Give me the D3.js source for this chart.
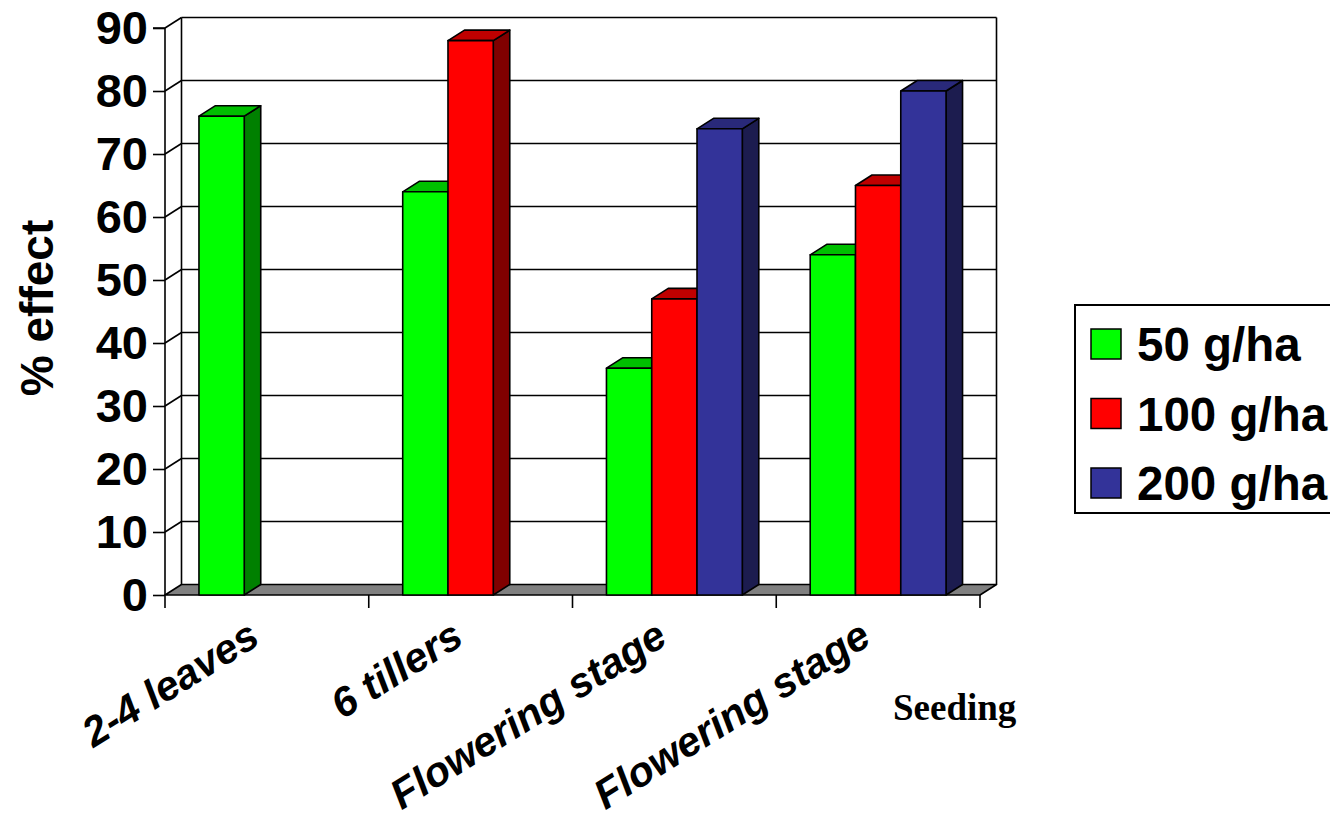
<!DOCTYPE html>
<html>
<head>
<meta charset="utf-8">
<script src="https://cdn.jsdelivr.net/npm/d3@7"></script>
<style>
  html, body { margin: 0; padding: 0; background: #fff; }
  svg { display: block; }
  text { font-family: "Liberation Sans", Arial, sans-serif; font-weight: bold; fill: #000; }
</style>
</head>
<body>
<svg id="chart" width="1330" height="817"></svg>
<script>
// Application stages (x categories)
const categories = ["2-4 leaves", "6 tillers", "Flowering stage", "Flowering stage"];
// Dose series
const series = ["50 g/ha", "100 g/ha", "200 g/ha"];
// % effect per stage for each dose (null = not applied)
const values50 = [76, 64, 36, 54];
const values100 = [null, 88, 47, 65];
const values200 = [null, null, 74, 80];
const yTicks = [0, 10, 20, 30, 40, 50, 60, 70, 80, 90];

const seriesValues = [values50, values100, values200];
const colors = [
  { front: "#00ff00", top: "#00bf00", side: "#008000" },
  { front: "#ff0000", top: "#bf0000", side: "#800000" },
  { front: "#333399", top: "#29297a", side: "#1c1c4f" }
];

const svg = d3.select("#chart");

// Front plane of the 3-D box and depth offset of the back wall
const left = 165, right = 980, base = 595, topY = 28;
const DX = 16.5, DY = -10.5;

const x0 = d3.scaleBand().domain(d3.range(categories.length)).range([left, right]);
const x1 = d3.scaleBand().domain(series).range([0, x0.bandwidth()])
  .paddingInner(0).paddingOuter(0.75);
const y = d3.scaleLinear().domain([0, 90]).range([base, topY]);

const lineW = 1.6;

// Back wall gridlines
const wall = svg.append("g");
wall.selectAll("line.grid").data(yTicks.filter(d => d > 0)).join("line")
  .attr("x1", left + DX).attr("x2", right + DX)
  .attr("y1", d => y(d) + DY).attr("y2", d => y(d) + DY)
  .attr("stroke", "#000").attr("stroke-width", lineW);
// Side wall diagonals joining front axis ticks to the back wall
wall.selectAll("line.diag").data(yTicks.filter(d => d > 0)).join("line")
  .attr("x1", left).attr("x2", left + DX)
  .attr("y1", d => y(d)).attr("y2", d => y(d) + DY)
  .attr("stroke", "#000").attr("stroke-width", lineW);
// Back wall vertical edges
wall.append("line").attr("x1", left + DX).attr("x2", left + DX)
  .attr("y1", y(90) + DY).attr("y2", y(0) + DY)
  .attr("stroke", "#000").attr("stroke-width", lineW);
wall.append("line").attr("x1", right + DX).attr("x2", right + DX)
  .attr("y1", y(90) + DY).attr("y2", y(0) + DY)
  .attr("stroke", "#000").attr("stroke-width", lineW);

// Floor
svg.append("path")
  .attr("d", `M${left},${y(0)} L${left + DX},${y(0) + DY} L${right + DX},${y(0) + DY} L${right},${y(0)} Z`)
  .attr("fill", "#808080").attr("stroke", "#000").attr("stroke-width", lineW)
  .attr("stroke-linejoin", "round");

// Y axis
const yAxis = d3.axisLeft(y).tickValues(yTicks).tickSize(12).tickPadding(5);
const gy = svg.append("g").attr("transform", `translate(${left},0)`).call(yAxis);
gy.select(".domain").attr("stroke", "#000").attr("stroke-width", lineW)
  .attr("d", `M-12,${y(90)}H0V${y(0)}`);
gy.selectAll(".tick line").attr("stroke", "#000").attr("stroke-width", lineW);
gy.selectAll(".tick text").attr("font-size", 47).attr("font-family", "Liberation Sans")
  .attr("font-weight", "bold").attr("fill", "#000");

// X axis ticks between categories
const xTickPos = d3.range(categories.length + 1).map(i => left + i * x0.step());
svg.selectAll("line.xtick").data(xTickPos).join("line")
  .attr("x1", d => d).attr("x2", d => d)
  .attr("y1", base).attr("y2", base + 13)
  .attr("stroke", "#000").attr("stroke-width", lineW);

// 3-D bars
const bars = svg.append("g");
categories.forEach((c, ci) => {
  series.forEach((s, si) => {
    const v = seriesValues[si][ci];
    if (v == null) return;
    const bx = x0(ci) + x1(s), bw = x1.bandwidth();
    const by = y(v), b0 = y(0);
    const col = colors[si];
    const g = bars.append("g").attr("stroke", "#000").attr("stroke-width", lineW)
      .attr("stroke-linejoin", "round");
    g.append("path")
      .attr("d", `M${bx + bw},${b0} L${bx + bw + DX},${b0 + DY} L${bx + bw + DX},${by + DY} L${bx + bw},${by} Z`)
      .attr("fill", col.side);
    g.append("path")
      .attr("d", `M${bx},${by} L${bx + DX},${by + DY} L${bx + bw + DX},${by + DY} L${bx + bw},${by} Z`)
      .attr("fill", col.top);
    g.append("rect").attr("x", bx).attr("y", by).attr("width", bw).attr("height", b0 - by)
      .attr("fill", col.front);
  });
});

// Category labels
svg.selectAll("text.cat").data(categories).join("text")
  .attr("class", "cat")
  .attr("transform", (d, i) => `translate(${x0(i) + x0.bandwidth() / 2 - 5},643) rotate(-32)`)
  .attr("text-anchor", "end")
  .attr("font-size", 41.5).attr("font-style", "italic")
  .text(d => d);

// Sowing note
svg.append("text").attr("x", 893).attr("y", 720)
  .style("font-family", "'Liberation Serif', 'Times New Roman', serif")
  .attr("font-size", 37).text("Seeding");

// Y axis title
svg.append("text").attr("transform", "translate(53,308) rotate(-90)")
  .attr("text-anchor", "middle").attr("font-size", 46).text("% effect");

// Legend
const legend = svg.append("g");
legend.append("rect").attr("x", 1075).attr("y", 305).attr("width", 280).attr("height", 208)
  .attr("fill", "#fff").attr("stroke", "#000").attr("stroke-width", 2);
const rows = legend.selectAll("g.row").data(series).join("g")
  .attr("transform", (d, i) => `translate(1091,${329 + i * 69.5})`);
rows.append("rect").attr("width", 30).attr("height", 30)
  .attr("fill", (d, i) => colors[i].front).attr("stroke", "#000").attr("stroke-width", 1.5);
rows.append("text").attr("x", 46).attr("y", 32).attr("font-size", 47.5).text(d => d);
</script>
</body>
</html>
